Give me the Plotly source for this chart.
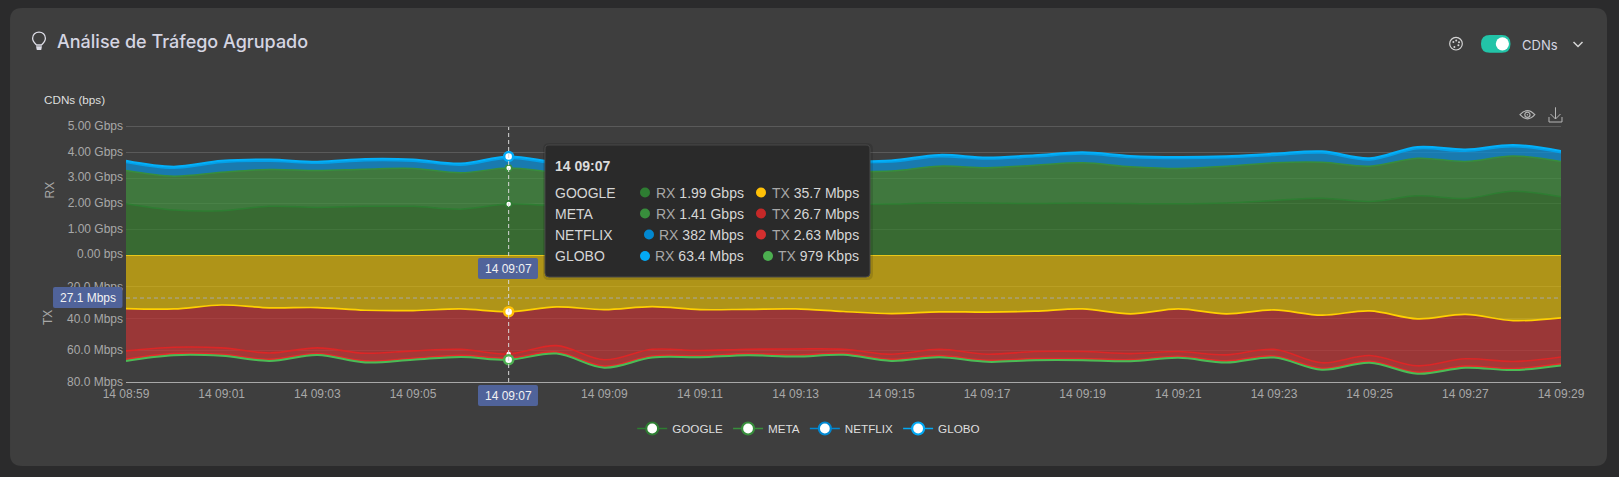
import numpy as np
import pandas as pd
import plotly.graph_objects as go

W, H = 1619, 477

# one sample per minute, 14 08:59 -> 14 09:29
times = pd.date_range("2025-01-14 08:59", periods=31, freq="min")

# RX, Gbps
google_rx = [2.00, 1.755, 1.73, 1.90, 1.86, 1.90, 1.90, 1.79, 1.99, 1.92, 1.88, 1.93, 1.96, 1.98, 1.93, 1.97,
             1.99, 2.04, 2.03, 2.01, 2.03, 2.01, 2.00, 2.03, 2.13, 2.22, 2.09, 2.31, 2.21, 2.49, 2.27]
meta_rx = [1.30, 1.325, 1.50, 1.44, 1.44, 1.45, 1.48, 1.42, 1.41, 1.30, 1.30, 1.29, 1.31, 1.32, 1.29, 1.29,
           1.29, 1.43, 1.38, 1.50, 1.57, 1.44, 1.38, 1.44, 1.47, 1.40, 1.38, 1.47, 1.44, 1.38, 1.38]
netflix_rx = [0.315, 0.31, 0.385, 0.32, 0.28, 0.335, 0.285, 0.30, 0.382, 0.34, 0.31, 0.32, 0.315, 0.315, 0.34, 0.34,
              0.35, 0.37, 0.335, 0.325, 0.34, 0.355, 0.385, 0.325, 0.29, 0.36, 0.245, 0.37, 0.40, 0.36, 0.34]
globo_rx = [0.065, 0.06, 0.065, 0.07, 0.06, 0.065, 0.065, 0.06, 0.0634, 0.06, 0.06, 0.06, 0.065, 0.065, 0.06, 0.06,
            0.06, 0.07, 0.065, 0.065, 0.07, 0.065, 0.065, 0.065, 0.07, 0.07, 0.065, 0.07, 0.07, 0.07, 0.07]

# TX, Mbps
google_tx = [33.75, 34.0, 31.5, 33.3, 33.1, 34.8, 35.0, 34.0, 35.7, 32.7, 34.4, 32.5, 34.4, 34.2, 34.0, 35.6,
             36.9, 35.8, 36.0, 35.4, 34.0, 37.1, 34.0, 37.1, 34.6, 37.9, 35.2, 40.2, 37.4, 41.3, 39.6]
meta_tx = [26.65, 24.1, 27.0, 28.4, 25.4, 27.1, 25.4, 25.4, 26.7, 24.4, 31.6, 26.9, 25.8, 25.2, 25.2, 23.8,
           25.6, 23.6, 26.5, 25.4, 26.8, 25.0, 26.8, 25.8, 24.8, 30.0, 28.1, 29.6, 28.0, 25.8, 24.6]
netflix_tx = [5.3, 4.05, 4.0, 4.0, 3.55, 4.8, 4.6, 3.8, 2.63, 4.0, 4.0, 4.2, 3.25, 2.75, 3.8, 2.55,
              3.2, 4.0, 3.8, 4.5, 4.5, 3.8, 3.0, 3.8, 4.2, 3.4, 3.6, 4.0, 4.6, 4.4, 4.4]
globo_tx = [1.0, 0.95, 1.0, 1.0, 0.95, 1.0, 1.0, 1.0, 0.979, 1.0, 1.0, 1.0, 0.95, 0.95, 1.0, 0.95,
            1.0, 1.0, 1.0, 1.0, 1.0, 1.0, 1.0, 1.0, 1.0, 1.0, 1.0, 1.0, 1.0, 1.0, 1.0]

cdn_names = ["GOOGLE", "META", "NETFLIX", "GLOBO"]
rx_series = [google_rx, meta_rx, netflix_rx, globo_rx]
tx_series = [google_tx, meta_tx, netflix_tx, globo_tx]
rx_colors = ["#2e7d32", "#388e3c", "#0288d1", "#03a9f4"]
tx_colors = ["#ffc107", "#c62828", "#d32f2f", "#4caf50"]
rx_fill = ["rgba(53,130,45,0.65)", "rgba(66,146,63,0.7)", "rgba(16,140,208,0.78)", "rgba(3,169,244,0.8)"]
tx_fill = ["rgba(246,202,2,0.62)", "rgba(197,52,52,0.68)", "rgba(211,52,52,0.7)", "rgba(76,175,80,0.7)"]
# the drawn lines read a little brighter than the tooltip dots
rx_lines = ["#2e7d32", "#388e3c", "#03a0e8", "#03b0fa"]
tx_lines = ["#ffd000", "#dc2626", "#e32b2b", "#4cbb55"]
rx_widths = [1.5, 1.5, 1.5, 2]
tx_widths = [1.7, 1.6, 1.6, 2]

rx_ticks = [0, 1, 2, 3, 4, 5]
rx_labels = ["0.00 bps", "1.00 Gbps", "2.00 Gbps", "3.00 Gbps", "4.00 Gbps", "5.00 Gbps"]
tx_ticks = [20, 40, 60, 80]
tx_labels = ["20.0 Mbps", "40.0 Mbps", "60.0 Mbps", "80.0 Mbps"]

tooltip_time = "14 09:07"
tooltip_rows = [
    ("GOOGLE", "1.99 Gbps", "35.7 Mbps"),
    ("META", "1.41 Gbps", "26.7 Mbps"),
    ("NETFLIX", "382 Mbps", "2.63 Mbps"),
    ("GLOBO", "63.4 Mbps", "979 Kbps"),
]
cursor_tx = 27.1
hover_idx = 8

LABEL_FONT = "Liberation Sans, Arial, sans-serif"
PAGE_BG = "#2b2b2c"
CARD_BG = "#3e3e3e"
BADGE = "#50639a"
MUTED = "#a8a8a8"


# chrome is placed in screen pixels
def px(x):
    return x / W


def py(y):
    return 1 - y / H


def path(*parts):
    # parts are either a command letter or an (x, y) pair in pixels
    out = []
    for p in parts:
        if isinstance(p, str):
            out.append(p)
        else:
            out.append(f"{px(p[0]):.5f},{py(p[1]):.5f}")
    return " ".join(out)


shapes = []
annotations = []


def add_path(d, fill=None, color=None, width=1.2, layer="above"):
    shapes.append(dict(type="path", xref="paper", yref="paper", path=d, layer=layer,
                       fillcolor=fill or "rgba(0,0,0,0)",
                       line=dict(color=color or "rgba(0,0,0,0)", width=width if color else 0)))


def add_rect(x0, y0, x1, y1, r, fill, color=None, layer="above"):
    d = path("M", (x0 + r, y0), "L", (x1 - r, y0), "Q", (x1, y0), (x1, y0 + r), "L", (x1, y1 - r),
             "Q", (x1, y1), (x1 - r, y1), "L", (x0 + r, y1), "Q", (x0, y1), (x0, y1 - r), "L", (x0, y0 + r),
             "Q", (x0, y0), (x0 + r, y0), "Z")
    add_path(d, fill=fill, color=color, width=1, layer=layer)


def add_circle(cx, cy, r, fill=None, color=None, width=1.2):
    shapes.append(dict(type="circle", xref="paper", yref="paper", layer="above",
                       x0=px(cx - r), x1=px(cx + r), y0=py(cy + r), y1=py(cy - r),
                       fillcolor=fill or "rgba(0,0,0,0)",
                       line=dict(color=color or "rgba(0,0,0,0)", width=width if color else 0)))


def add_text(x, y, text, size=12, color="#dddddd", anchor="left", family=LABEL_FONT, angle=0, weight=None):
    font = dict(size=size, color=color, family=family)
    if weight:
        font["weight"] = weight
    annotations.append(dict(xref="paper", yref="paper", x=px(x), y=py(y), text=text, showarrow=False,
                            xanchor=anchor, yanchor="middle", textangle=angle, borderpad=0, font=font))


fig = go.Figure()

# stacked areas, RX grows up and TX grows down
for name, values, color, width, fill in zip(cdn_names, rx_series, rx_lines, rx_widths, rx_fill):
    fig.add_trace(go.Scatter(x=times, y=values, name=name, yaxis="y", stackgroup="rx", mode="lines",
                             line=dict(color=color, width=width, shape="spline", smoothing=1),
                             fillcolor=fill, showlegend=False, hoverinfo="skip"))
for name, values, color, width, fill in zip(cdn_names, tx_series, tx_lines, tx_widths, tx_fill):
    fig.add_trace(go.Scatter(x=times, y=values, name=name, yaxis="y2", stackgroup="tx", mode="lines",
                             line=dict(color=color, width=width, shape="spline", smoothing=1),
                             fillcolor=fill, showlegend=False, hoverinfo="skip"))

# highlighted points of the hovered sample
hover_time = times[hover_idx]
rx_stack = np.cumsum([s[hover_idx] for s in rx_series])
tx_stack = np.cumsum([s[hover_idx] for s in tx_series])
for k in range(4):
    big = k == 3
    fig.add_trace(go.Scatter(x=[hover_time], y=[rx_stack[k]], yaxis="y", mode="markers", showlegend=False,
                             hoverinfo="skip",
                             marker=dict(size=9 if big else 6, color="white",
                                         line=dict(color=rx_colors[k], width=2.5 if big else 1.5))))
for k in range(4):
    big = k in (0, 3)
    fig.add_trace(go.Scatter(x=[hover_time], y=[tx_stack[k]], yaxis="y2", mode="markers", showlegend=False,
                             hoverinfo="skip",
                             marker=dict(size=9 if big else 6, color="white",
                                         line=dict(color=tx_colors[k], width=2.5 if big else 1.5))))

# legend entries only
for name, color in zip(cdn_names, rx_colors):
    fig.add_trace(go.Scatter(x=[None], y=[None], name=name, mode="lines+markers",
                             line=dict(color=color, width=1.5),
                             marker=dict(size=12, color="white", line=dict(color=color, width=2.2))))

# card behind everything
add_rect(10, 8, 1607, 466, 12, CARD_BG, layer="below")

# crosshair
shapes.append(dict(type="line", xref="x", yref="paper", x0=hover_time, x1=hover_time, y0=py(382), y1=py(127),
                   layer="above", line=dict(color="#d8d8d8", width=1, dash="4px,3px")))
shapes.append(dict(type="line", xref="paper", yref="y2", x0=px(126), x1=px(1561), y0=cursor_tx, y1=cursor_tx,
                   layer="above", line=dict(color="#a8a8a8", width=1, dash="4px,3px")))

# crosshair badges
add_rect(478, 258, 538, 279, 2, BADGE)
add_text(508, 268.5, tooltip_time, size=12, color="#f2f2f2", anchor="center")
add_rect(478, 385, 538, 406, 2, BADGE)
add_text(508, 395.5, tooltip_time, size=12, color="#f2f2f2", anchor="center")
add_rect(53, 287, 122.5, 308, 2, BADGE)
add_text(87.7, 297.5, f"{cursor_tx} Mbps", size=12, color="#f2f2f2", anchor="center")

# tooltip
add_rect(543, 143, 873, 280, 6, "rgba(0,0,0,0.12)")
add_rect(545, 145, 870, 277, 4, "#2a2a2a", color="#484848")
add_text(554, 165.5, f"<b>{tooltip_time}</b>", size=14, color="#dcdcdc")
row_y = [192.5, 213.5, 234.5, 256]
rx_dot_x = [645, 645, 649, 645]
tx_dot_x = [761, 761, 761, 768]
for k, (name, rx_val, tx_val) in enumerate(tooltip_rows):
    y = row_y[k]
    add_text(554, y, name, size=14, color="#d6d6d6")
    add_circle(rx_dot_x[k], y, 5, fill=rx_colors[k])
    add_text(745, y, f'<span style="color:#a8a8a8">RX</span> {rx_val}', size=14, color="#d6d6d6", anchor="right")
    add_circle(tx_dot_x[k], y, 5, fill=tx_colors[k])
    add_text(860, y, f'<span style="color:#a8a8a8">TX</span> {tx_val}', size=14, color="#d6d6d6", anchor="right")

# header
add_text(55.5, 42, "Análise de Tráfego Agrupado", size=18, color="#d5d5e2", family="Inter, sans-serif", weight=500)
add_text(1521, 44.5, "CDNs", size=13, color="#d5d5e2", family="Inter, sans-serif")
add_text(43, 99.5, "CDNs (bps)", size=11.7, color="#dedede")
add_text(49, 190.5, "RX", size=12, color=MUTED, anchor="center", angle=-90)
add_text(48, 318, "TX", size=12, color=MUTED, anchor="center", angle=-90)

# bulb icon
add_path(path("M", (36.5, 45), "C", (34, 42.5), (32.6, 40.5), (32.6, 38.2), "C", (32.6, 34.6), (35.5, 32.2), (39, 32.2),
              "C", (42.5, 32.2), (45.4, 34.6), (45.4, 38.2), "C", (45.4, 40.5), (44, 42.5), (41.5, 45), "Z"),
         color="#dcdce6", width=1.3)
add_path(path("M", (36, 46.2), "L", (42, 46.2), "L", (41.2, 50), "L", (36.8, 50), "Z"), fill="#dcdce6")

# palette icon
add_circle(1456, 43.7, 6.3, color="#d5d5d5", width=1.2)
for dx, dy in [(-2.6, -1.6), (0.2, -3.2), (3, -1.4), (2.4, 1.6), (-1.6, 3.2)]:
    add_circle(1456 + dx, 43.7 + dy, 1.0, fill="#d5d5d5")

# switch and chevron
add_rect(1481, 35, 1510.5, 52.7, 8.8, "#22c4a8")
add_circle(1502.4, 43.8, 6.6, fill="#ffffff")
add_path(path("M", (1573.5, 42), "L", (1578, 46.5), "L", (1582.5, 42)), color="#d5d5d5", width=1.5)

# eye icon
add_path(path("M", (1520, 114.7), "Q", (1527.4, 106.5), (1534.8, 114.7), "Q", (1527.4, 122.9), (1520, 114.7), "Z"),
         color="#b5b5b5", width=1.2)
add_circle(1527.4, 114.7, 2.6, color="#b5b5b5", width=1.2)
add_circle(1527.4, 114.7, 0.8, fill="#b5b5b5")

# download icon
add_path(path("M", (1555.5, 107.3), "L", (1555.5, 119)), color="#b5b5b5", width=1)
add_path(path("M", (1550.5, 114), "L", (1555.5, 119), "L", (1560.5, 114)), color="#b5b5b5", width=1)
add_path(path("M", (1549, 117), "L", (1549, 122), "L", (1562, 122), "L", (1562, 117)), color="#b5b5b5", width=1)

tick_font = dict(size=12, color=MUTED, family=LABEL_FONT)

fig.update_layout(
    width=W,
    height=H,
    autosize=False,
    margin=dict(l=0, r=0, t=0, b=0, pad=0, autoexpand=False),
    paper_bgcolor=PAGE_BG,
    plot_bgcolor="rgba(0,0,0,0)",
    shapes=shapes,
    annotations=annotations,
    hovermode=False,
    xaxis=dict(
        domain=[px(126), px(1561)],
        anchor="y2",
        type="date",
        range=[times[0], times[-1]],
        tick0=times[0],
        dtick=120000,
        tickformat="%d %H:%M",
        tickfont=tick_font,
        ticks="",
        ticklabelstandoff=1,
        showgrid=False,
        zeroline=False,
        showline=True,
        linecolor="#a8a8a8",
        linewidth=1,
    ),
    yaxis=dict(
        # range runs slightly past 5 so the top gridline is kept; domain grown to keep the scale
        domain=[py(255), py(125.7)],
        range=[0, 5.05],
        tickvals=rx_ticks,
        ticktext=rx_labels,
        tickfont=tick_font,
        ticks="",
        ticklabelstandoff=2,
        ticklabelshift=-1,
        gridcolor="#5a5a5a",
        gridwidth=1,
        zeroline=False,
        showline=False,
    ),
    yaxis2=dict(
        domain=[py(382), py(255)],
        range=[80, 0],
        tickvals=tx_ticks,
        ticktext=tx_labels,
        tickfont=tick_font,
        ticks="",
        ticklabelstandoff=2,
        gridcolor="#5a5a5a",
        gridwidth=1,
        zeroline=True,
        zerolinecolor="#d4c23f",
        zerolinewidth=1,
        showline=False,
    ),
    legend=dict(
        orientation="h",
        x=0.4995,
        xanchor="center",
        y=py(414),
        yanchor="top",
        traceorder="normal",
        bgcolor="rgba(0,0,0,0)",
        itemwidth=30,
        font=dict(size=11.7, color="#dedede", family=LABEL_FONT),
    ),
)

fig.write_html(
    "out.html",
    config=dict(displayModeBar=False),
    post_script=f"document.body.style.margin='0';document.body.style.background='{PAGE_BG}';",
)
